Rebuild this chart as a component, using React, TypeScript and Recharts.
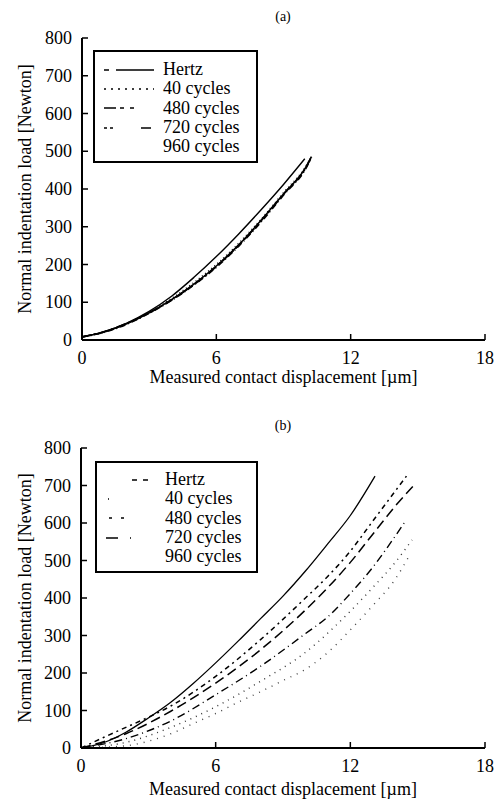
import React from "react"
import { LineChart, Line, XAxis, YAxis, Legend } from "recharts"

const FONT = '"Liberation Serif", "Times New Roman", serif'

const xTicks = [0, 6, 12, 18]
const yTicks = [0, 100, 200, 300, 400, 500, 600, 700, 800]
const seriesNames = ["Hertz", "40 cycles", "480 cycles", "720 cycles", "960 cycles"]

// panel (a)
const aHertzX = [0, 1, 2, 3, 4, 5, 6, 7, 8, 9, 9.95]
const aHertzY = [8, 22, 45, 76, 116, 166, 221, 281, 345, 412, 480]
const aCycX = [0, 1, 2, 3, 4, 5, 6, 7, 8, 9, 10, 10.25]
const a40Y = [8, 21, 43, 73, 110, 152, 200, 256, 320, 390, 460, 485]
const a480Y = [8, 22, 44, 72, 106, 147, 195, 251, 316, 386, 457, 485]
const a720Y = [8, 21, 42, 71, 105, 146, 193, 249, 313, 384, 455, 484]
const a960Y = [8, 22, 43, 72, 107, 148, 196, 252, 317, 387, 458, 486]

// panel (b)
const bHertzX = [0, 1, 2, 3, 4, 5, 6, 7, 8, 9, 10, 11, 12, 13.1]
const bHertzY = [0, 14, 42, 80, 122, 172, 227, 285, 345, 405, 472, 545, 620, 725]
const b40X = [0, 2, 4, 6, 8, 10, 12, 13, 14, 14.75]
const b40Y = [0, 15, 55, 110, 178, 255, 365, 428, 495, 555]
const b40bX = [0, 2, 3, 4, 5, 6, 7, 8, 9, 10, 11, 12, 13, 14, 14.6]
const b40bY = [0, 6, 18, 38, 65, 92, 122, 150, 180, 210, 255, 315, 380, 450, 510]
const b480X = [0, 1, 2, 3, 4, 6, 8, 10, 11, 12, 13, 14, 14.5]
const b480Y = [0, 28, 55, 82, 112, 191, 289, 400, 458, 525, 605, 685, 725]
const b720X = [0, 2, 4, 6, 8, 10, 11, 12, 13, 14, 14.9]
const b720Y = [0, 38, 98, 173, 262, 368, 428, 495, 570, 645, 705]
const b960X = [0, 2, 4, 6, 8, 10, 11, 12, 13, 14, 14.4]
const b960Y = [0, 25, 72, 142, 218, 305, 350, 412, 482, 565, 600]

const pts = (xs: number[], ys: number[]) => xs.map((x, i) => ({ x, y: ys[i] }))

type Series = { name: string; data: { x: number; y: number }[]; dash?: string; color: string; width: number; hideLegend?: boolean }

const seriesA: Series[] = [
  { name: seriesNames[0], data: pts(aHertzX, aHertzY), color: "#000", width: 1.4 },
  { name: seriesNames[1], data: pts(aCycX, a40Y), dash: "1 3", color: "#111", width: 1.6 },
  { name: seriesNames[2], data: pts(aCycX, a480Y), dash: "9 3 3 3", color: "#000", width: 1.8 },
  { name: seriesNames[3], data: pts(aCycX, a720Y), dash: "6 3 1 3", color: "#000", width: 1.8 },
  { name: seriesNames[4], data: pts(aCycX, a960Y), color: "#000", width: 1.6 },
]

const seriesB: Series[] = [
  { name: seriesNames[0], data: pts(bHertzX, bHertzY), color: "#000", width: 1.3 },
  { name: seriesNames[1], data: pts(b40X, b40Y), dash: "1 5", color: "#333", width: 1.4 },
  { name: seriesNames[2], data: pts(b480X, b480Y), dash: "5 4 2 4", color: "#000", width: 1.5 },
  { name: seriesNames[3], data: pts(b720X, b720Y), dash: "10 5", color: "#000", width: 1.5 },
  { name: seriesNames[4], data: pts(b960X, b960Y), dash: "8 4 1 4", color: "#000", width: 1.4 },
  { name: "40 cycles (2)", data: pts(b40bX, b40bY), dash: "1 6", color: "#444", width: 1.4, hideLegend: true },
]

const legendDashA = ["5 7 38", "2 5", "12 4 4 6 4 40", "3 3 3 28 10", "0 60"]
const legendDashB = ["0 26 5 6 5 60", "0 2 1 60", "0 3 3 9 3 60", "12 12 1 26 1 60", "0 60"]

const empty = () => <g />

function Panel(props: {
  title: string
  height: number
  top: number
  marginTop: number
  titleTop: number
  labelOffset: number
  plotLeft: number
  xAxisH: number
  series: Series[]
  legendDash: string[]
  legend: { left: number; top: number; w: number; h: number; padTop: number }
}) {
  const { height, top, plotLeft, xAxisH, series, legendDash, legend } = props
  const plotBottom = height - xAxisH

  const YTick = (p: any) => (
    <g>
      <line x1={plotLeft} x2={plotLeft + 6} y1={p.y} y2={p.y} stroke="#000" strokeWidth={1.5} />
      <text x={plotLeft - 10} y={p.y} textAnchor="end" dominantBaseline="central" fontFamily={FONT} fontSize={18} fill="#000">
        {p.payload.value}
      </text>
    </g>
  )
  const XTick = (p: any) => (
    <g>
      <line x1={p.x} x2={p.x} y1={plotBottom} y2={plotBottom - 6} stroke="#000" strokeWidth={1.5} />
      <text x={p.x} y={plotBottom + 18} textAnchor="middle" dominantBaseline="central" fontFamily={FONT} fontSize={18} fill="#000">
        {p.payload.value}
      </text>
    </g>
  )
  const YLabel = (p: any) => {
    const cy = props.marginTop + (plotBottom - props.marginTop) / 2
    return (
      <text x={25} y={cy} transform={`rotate(-90 25 ${cy})`} textAnchor="middle" dominantBaseline="central" fontFamily={FONT} fontSize={18} fill="#000">
        Normal indentation load [Newton]
      </text>
    )
  }

  const legendContent = () => (
    <div
      style={{
        width: legend.w,
        height: legend.h,
        boxSizing: "border-box",
        border: "2px solid #000",
        background: "#fff",
        paddingTop: legend.padTop,
        fontFamily: FONT,
        fontSize: 18,
        color: "#000",
      }}
    >
      {seriesNames.map((n, i) => (
        <div key={n} style={{ height: 19.3, display: "flex", alignItems: "center" }}>
          <svg width={68} height={10} style={{ flex: "none" }}>
            <line x1={9} x2={59} y1={5} y2={5} stroke="#000" strokeWidth={1.4} strokeDasharray={legendDash[i]} />
          </svg>
          <span style={{ lineHeight: "19px" }}>{n}</span>
        </div>
      ))}
    </div>
  )

  return (
    <div style={{ position: "absolute", left: 0, top, width: 499, height }}>
      <div style={{ position: "absolute", left: 0, width: 499, top: props.titleTop, textAlign: "center", fontFamily: FONT, fontSize: 14, paddingLeft: 67, boxSizing: "border-box" }}>
        {props.title}
      </div>
      <LineChart width={499} height={height} margin={{ top: props.marginTop, right: 14, bottom: 0, left: 0 }}>
        <XAxis
          xAxisId="b"
          type="number"
          dataKey="x"
          domain={[0, 18]}
          ticks={xTicks}
          interval={0}
          allowDataOverflow
          height={xAxisH}
          tickLine={false}
          axisLine={{ stroke: "#000", strokeWidth: 2 }}
          tick={XTick}
          label={{ value: "Measured contact displacement [\u00b5m]", position: "insideBottom", offset: props.labelOffset, style: { fontFamily: FONT, fontSize: 18, fill: "#000" } }}
        />
        <XAxis xAxisId="t" orientation="top" type="number" domain={[0, 18]} ticks={xTicks} height={0} mirror tickSize={5} tick={empty} axisLine={{ stroke: "#000", strokeWidth: 2 }} tickLine={{ stroke: "#000" }} />
        <YAxis
          yAxisId="l"
          type="number"
          domain={[0, 800]}
          ticks={yTicks}
          interval={0}
          width={plotLeft}
          tickLine={false}
          axisLine={{ stroke: "#000", strokeWidth: 2 }}
          tick={YTick}
          label={{ content: YLabel }}
        />
        <YAxis yAxisId="r" orientation="right" type="number" domain={[0, 800]} ticks={yTicks} width={0} mirror tickSize={6} tick={empty} axisLine={{ stroke: "#000", strokeWidth: 2 }} tickLine={{ stroke: "#000", strokeWidth: 1.5 }} />
        <Legend
          layout="vertical"
          align="center"
          verticalAlign="middle"
          wrapperStyle={{ left: legend.left, top: legend.top, width: legend.w, height: legend.h }}
          content={legendContent}
        />
        {series.map((s) => (
          <Line
            key={s.name}
            xAxisId="b"
            yAxisId="l"
            data={s.data}
            dataKey="y"
            name={s.name}
            type="monotone"
            stroke={s.color}
            strokeWidth={s.width}
            strokeDasharray={s.dash}
            dot={false}
            activeDot={false}
            legendType={s.hideLegend ? "none" : "line"}
            isAnimationActive={false}
          />
        ))}
      </LineChart>
    </div>
  )
}

export default function App() {
  return (
    <div style={{ position: "absolute", left: 0, top: 0, width: 499, height: 802, background: "#fff" }}>
      <Panel
        title="(a)"
        top={0}
        height={400}
        marginTop={38}
        titleTop={9}
        labelOffset={17}
        plotLeft={82}
        xAxisH={60}
        series={seriesA}
        legendDash={legendDashA}
        legend={{ left: 93, top: 50, w: 165, h: 113, padTop: 8 }}
      />
      <Panel
        title="(b)"
        top={400}
        height={402}
        marginTop={48}
        titleTop={18}
        labelOffset={7}
        plotLeft={81}
        xAxisH={54}
        series={seriesB}
        legendDash={legendDashB}
        legend={{ left: 95, top: 61, w: 163, h: 112, padTop: 7 }}
      />
    </div>
  )
}
